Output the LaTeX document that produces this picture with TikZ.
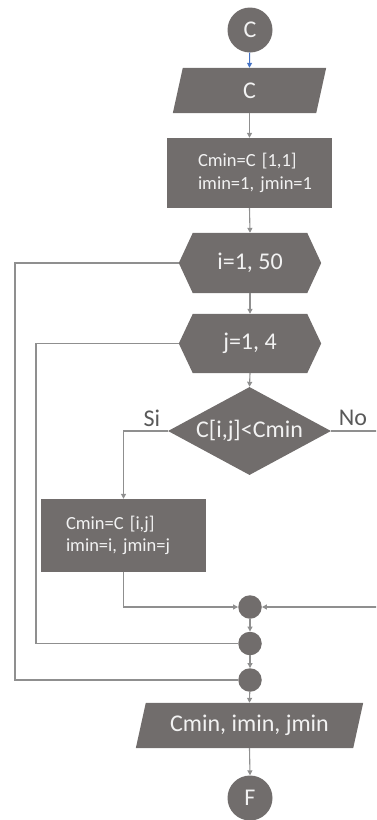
\documentclass[tikz,border=0pt]{standalone}
\usepackage{fontspec}
\setmainfont{Carlito}
\usetikzlibrary{shapes.geometric,arrows.meta,backgrounds}
\definecolor{boxfill}{HTML}{716D6C}
\definecolor{linegray}{HTML}{8F8F8F}
\definecolor{txt}{HTML}{F2F2F2}
\definecolor{lbl}{HTML}{595959}
\definecolor{arrowblue}{HTML}{4472C4}
\tikzset{
  big/.style={font=\fontsize{24}{29}\selectfont},
  small/.style={font=\fontsize{18.5}{22.5}\selectfont},
  term/.style={circle, fill=boxfill, minimum size=45pt, inner sep=0pt, text=txt, big},
  joinpt/.style={circle, fill=boxfill, minimum size=23.5pt, inner sep=0pt},
  frame/.style={rectangle, inner sep=0pt, text=txt},
  conn/.style={draw=linegray, line width=1.1pt, -{Triangle[length=5pt,width=5pt]}},
  plain/.style={draw=linegray, line width=1.1pt},
  lab/.style={text=lbl, big},
}
\begin{document}
\begin{tikzpicture}[x=1pt,y=-1pt]
\useasboundingbox (0,0) rectangle (376,820);
\clip (0,0) rectangle (376,820);

% nodes
\node[term] (c) at (250,30) {C};
\node[frame, big, minimum width=153pt, minimum height=45pt] (in) at (249.5,90.5) {C};
\node[frame, small, fill=boxfill, minimum width=165pt, minimum height=70pt, text width=103pt, align=left] (init) at (249.5,173) {Cmin=C [1,1]\\\mbox{imin=1, jmin=1}};
\node[frame, big, minimum width=142pt, minimum height=60pt] (i) at (250,263) {i=1, 50};
\node[frame, big, minimum width=142pt, minimum height=59pt] (j) at (250,343.5) {j=1, 4};
\node[diamond, fill=boxfill, text=txt, big, inner sep=0pt, aspect=1.85, minimum width=163pt, minimum height=88pt] (d) at (249.5,431) {C[i,j]<Cmin};
\node[lab] (si) at (152,418) {Si};
\node[lab] (no) at (353,418) {No};
\node[frame, small, fill=boxfill, minimum width=165pt, minimum height=73pt, text width=115pt, align=left] (a) at (123.5,535.5) {Cmin=C [i,j]\\\mbox{imin=i, jmin=j}};
\node[joinpt] (j1) at (250,607) {};
\node[joinpt] (j2) at (250,643.5) {};
\node[joinpt] (j3) at (250,680) {};
\node[frame, big, minimum width=227pt, minimum height=45pt] (out) at (249.5,725.5) {Cmin, imin, jmin};
\node[term] (f) at (250,798) {F};

% shapes behind text
\begin{scope}[on background layer]
  \fill[boxfill] ([xshift=10pt]in.north west) -- (in.north east) -- ([xshift=-10pt]in.south east) -- (in.south west) -- cycle;
  \fill[boxfill] (i.west) -- ([xshift=14pt]i.north west) -- ([xshift=-14pt]i.north east) -- (i.east) -- ([xshift=-14pt]i.south east) -- ([xshift=14pt]i.south west) -- cycle;
  \fill[boxfill] (j.west) -- ([xshift=14pt]j.north west) -- ([xshift=-14pt]j.north east) -- (j.east) -- ([xshift=-14pt]j.south east) -- ([xshift=14pt]j.south west) -- cycle;
  \fill[boxfill] ([xshift=10pt]out.north west) -- (out.north east) -- ([xshift=-10pt]out.south east) -- (out.south west) -- cycle;
\end{scope}

% free corner points
\coordinate (noc) at (382,431);
\coordinate (jl) at (36,643.5);
\coordinate (il) at (15,680);

% connectors
\draw[conn, draw=arrowblue] (c) -- (in.north);
\draw[conn] (in.south) -- (init.north);
\draw[conn] (init.south) -- (i.north);
\draw[conn] (i.south) -- (j.north);
\draw[conn] (j.south) -- (d.north);
\draw[conn] (d.west) -| (a.north);
\draw[conn] (a.south) |- (j1.west);
\draw[conn] (d.east) -- (noc) |- (j1.east);
\draw[conn] (j1) -- (j2);
\draw[conn] (j2) -- (j3);
\draw[conn] (j3) -- (out.north);
\draw[conn] (out.south) -- (f.north);
\draw[plain] (j2.west) -- (jl) |- (j.west);
\draw[plain] (j3.west) -- (il) |- (i.west);
\end{tikzpicture}
\end{document}
